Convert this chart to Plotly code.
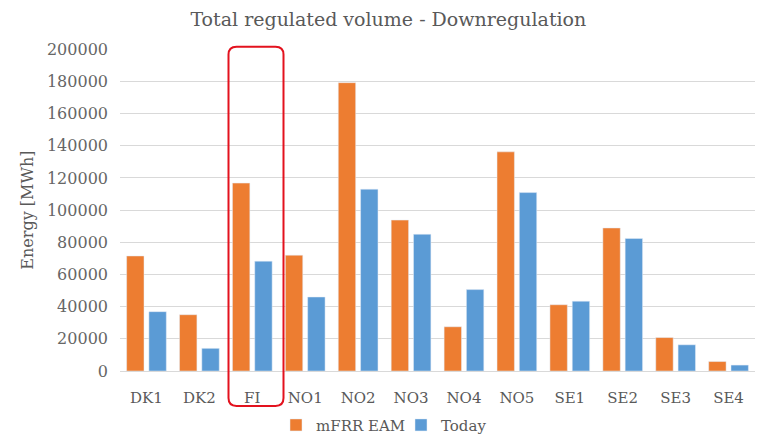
import plotly.graph_objects as go

# bidding zones on the x axis
areas = ["DK1", "DK2", "FI", "NO1", "NO2", "NO3", "NO4", "NO5", "SE1", "SE2", "SE3", "SE4"]

# total downregulated energy [MWh]
mfrr_eam = [71500, 35000, 116800, 72000, 179200, 93800, 27500, 136200, 41200, 88900, 20800, 5900]
today = [36900, 14100, 68300, 46000, 113000, 85000, 50600, 110900, 43400, 82400, 16300, 3700]

y_ticks = list(range(0, 200001, 20000))

ORANGE = "#ED7D31"
BLUE = "#5B9BD5"
GREY_TXT = "#595959"
SERIF = "DejaVu Serif"
W, H = 766, 442

fig = go.Figure()
fig.add_bar(x=areas, y=mfrr_eam, name="mFRR EAM", marker_color=ORANGE)
fig.add_bar(x=areas, y=today, name="Today", marker_color=BLUE)


def rounded_box(x0, x1, y0, y1, rx, ry):
    # rounded rectangle path in paper coords (y up)
    return (f"M {x0 + rx},{y1} L {x1 - rx},{y1} Q {x1},{y1} {x1},{y1 - ry} "
            f"L {x1},{y0 + ry} Q {x1},{y0} {x1 - rx},{y0} "
            f"L {x0 + rx},{y0} Q {x0},{y0} {x0},{y0 + ry} "
            f"L {x0},{y1 - ry} Q {x0},{y1} {x0 + rx},{y1} Z")


# highlight box around FI (pixel box converted to paper units)
fig.add_shape(type="path", xref="paper", yref="paper",
              path=rounded_box(228.5 / W, 283.5 / W, (H - 412.5) / H, (H - 47.5) / H, 8 / W, 8 / H),
              line=dict(color="#E3121E", width=2), fillcolor="rgba(0,0,0,0)")

fig.update_layout(
    width=W, height=H,
    margin=dict(l=0, r=0, t=0, b=0),
    paper_bgcolor="white", plot_bgcolor="white",
    title=dict(text="Total regulated volume - Downregulation", x=0.507, xanchor="center",
               y=(H - 19) / H, yanchor="middle",
               font=dict(family=SERIF, size=19, color=GREY_TXT)),
    barmode="group", bargap=0.157, bargroupgap=0.22,
    font=dict(family=SERIF, color=GREY_TXT, size=15),
    legend=dict(orientation="h", x=401 / W, xanchor="center", y=(H - 432) / H, yanchor="middle",
                font=dict(family=SERIF, size=15, color=GREY_TXT), itemwidth=30,
                entrywidth=80),
    showlegend=True,
)
fig.update_xaxes(domain=[120 / W, 755 / W], automargin=False,
                 showline=True, linecolor="#D9D9D9", linewidth=1, ticks="",
                 ticklabelstandoff=13,
                 tickfont=dict(family=SERIF, size=15, color=GREY_TXT))
fig.update_yaxes(domain=[(H - 377) / H, (H - 50) / H], automargin=False,
                 range=[0, 200000], tickvals=y_ticks, tickformat="d",
                 showgrid=True, gridcolor="#D9D9D9", gridwidth=1, zeroline=False,
                 ticklabelstandoff=11,
                 title=dict(text="Energy [MWh]", font=dict(family=SERIF, size=16, color=GREY_TXT),
                            standoff=9),
                 tickfont=dict(family=SERIF, size=16, color="#666666"), ticks="")

# page body has a default 8px margin; drop it so the figure sits at the window origin
fig.write_html("out.html", config={"displayModeBar": False},
               post_script="document.body.style.margin='0';")
